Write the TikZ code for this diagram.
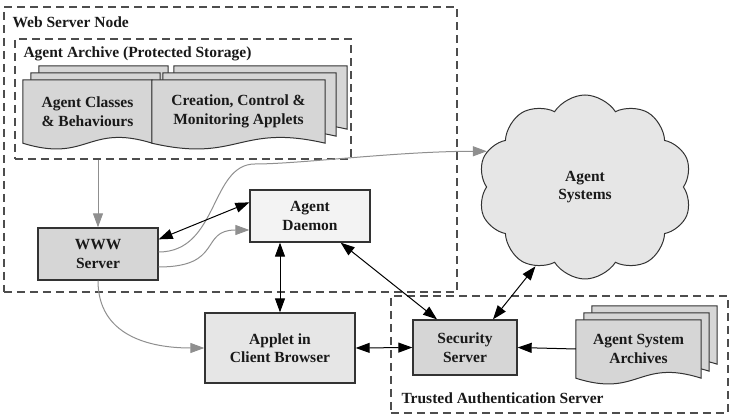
\documentclass[tikz,border=0pt]{standalone}
\usepackage{fontspec}
\setmainfont{Liberation Serif}
\usepackage{xcolor}
\usepackage{tikz}
\usetikzlibrary{arrows.meta, calc, shapes.symbols, backgrounds}
\definecolor{boxline}{HTML}{333333}
\definecolor{dashgray}{HTML}{4D4D4D}
\definecolor{linkgray}{HTML}{8F8F8F}
\definecolor{darkfill}{HTML}{D6D6D6}
\definecolor{midfill}{HTML}{E6E6E6}
\definecolor{lightfill}{HTML}{F3F3F3}

\tikzset{
  lbl/.style={font=\fontsize{15.5}{18.5}\selectfont\bfseries, align=center, text=black!90},
  box/.style={lbl, draw=boxline, line width=1.3pt, inner sep=0pt},
  zone/.style={draw=dashgray, line width=1.6pt, dash pattern=on 8pt off 5pt, inner sep=0pt},
  docnode/.style={lbl, inner sep=0pt},
  page/.style={fill=darkfill, draw=boxline, line width=1pt},
  link/.style={<->, line width=1pt},
  glink/.style={->, draw=linkgray, line width=1pt},
}

% one page with a wavy bottom, from south west to north east
\newcommand{\docpage}[2]{%
  \filldraw[page] let \p1=(#1), \p2=(#2), \n1={\x2-\x1} in
    (\x1,\y1) -- (\x1,\y2) -- (\x2,\y2) -- (\x2,\y1)
    .. controls +(-0.5*\n1,20pt) and +(0.5*\n1,-20pt) .. (\x1,\y1) -- cycle;}
% three pages stacked behind a named node
\newcommand{\docstack}[3]{%
  \docpage{$(#1.south west)+(2*#2,2*#3)$}{$(#1.north east)+(2*#2,2*#3)$}
  \docpage{$(#1.south west)+(#2,#3)$}{$(#1.north east)+(#2,#3)$}
  \docpage{#1.south west}{#1.north east}}

\begin{document}
\begin{tikzpicture}[x=1pt, y=1pt, >={Triangle[length=14pt, width=10pt]}]
    \useasboundingbox (0,0) rectangle (730,414);

    % --- dashed zones ---
    \node[zone, minimum width=453, minimum height=285, anchor=north west] (webnode) at (3,408) {};
    \node[lbl, anchor=base west] (webnodelbl) at (9,386) {Web Server Node};
    \node[zone, minimum width=336, minimum height=120, anchor=north west] (archive) at (14,376) {};
    \node[lbl, anchor=base west] (archivelbl) at (20,356) {Agent Archive (Protected Storage)};
    \node[zone, minimum width=337, minimum height=117, anchor=north west] (trusted) at (390,119) {};
    \node[lbl, anchor=base west] (trustedlbl) at (398,10) {Trusted Authentication Server};

    % --- document stacks ---
    \node[docnode, minimum width=129, minimum height=63] (classes) at (87.5,302.5) {Agent Classes\\\& Behaviours};
    \node[docnode, minimum width=173, minimum height=63] (applets) at (238.5,302.5) {Creation, Control \&\\Monitoring Applets};
    \node[docnode, minimum width=125, minimum height=58] (archives) at (638.5,65) {Agent System\\Archives};
    \begin{scope}[on background layer]
        \docstack{classes}{8}{7}
        \docstack{applets}{11}{7}
        \docstack{archives}{8}{7}
    \end{scope}

    % --- boxes and cloud ---
    \node[box, fill=darkfill, minimum width=120, minimum height=52] (www) at (98,160) {WWW\\Server};
    \node[box, fill=lightfill, minimum width=120, minimum height=52] (daemon) at (310,198) {Agent\\Daemon};
    \node[box, fill=midfill, minimum width=150, minimum height=70] (applet) at (280,66) {Applet in\\Client Browser};
    \node[box, fill=darkfill, minimum width=104, minimum height=55] (security) at (465,66.5) {Security\\Server};
    \node[lbl, cloud, cloud puffs=10, cloud puff arc=115, aspect=1.15, draw=boxline,
          fill=midfill, line width=1pt, inner sep=0pt, minimum width=214, minimum height=184]
          (cloud) at (585,227) {Agent\\Systems};

    % --- gray links ---
    \draw[glink] (archive.south -| www.north) -- (www.north);
    \draw[glink] ([yshift=2pt]www.east) .. controls +(60,0) and +(-45,0) .. (255,250)
        .. controls +(45,0) and +(-90,0) .. (cloud.160);
    \draw[glink] ([yshift=-13pt]www.east) .. controls +(65,0) and +(-50,0) .. ([yshift=-14pt]daemon.west);
    \draw[glink] (www.south) .. controls +(0,-55) and +(-55,0) .. (applet.west);

    % --- black links ---
    \draw[link] ([yshift=-12pt]www.north east) -- ([yshift=-13pt]daemon.north west);
    \draw[link] (applet.north |- daemon.south) -- (applet.north);
    \draw[link] ([xshift=-30pt]daemon.south east) -- ([xshift=-28pt]security.north);
    \draw[link] ([xshift=28pt]security.north) -- (cloud.-122);
    \draw[link] (applet.east) -- (security.west);
    \draw[->, line width=1pt] (archives.west) -- (security.east);
\end{tikzpicture}
\end{document}
